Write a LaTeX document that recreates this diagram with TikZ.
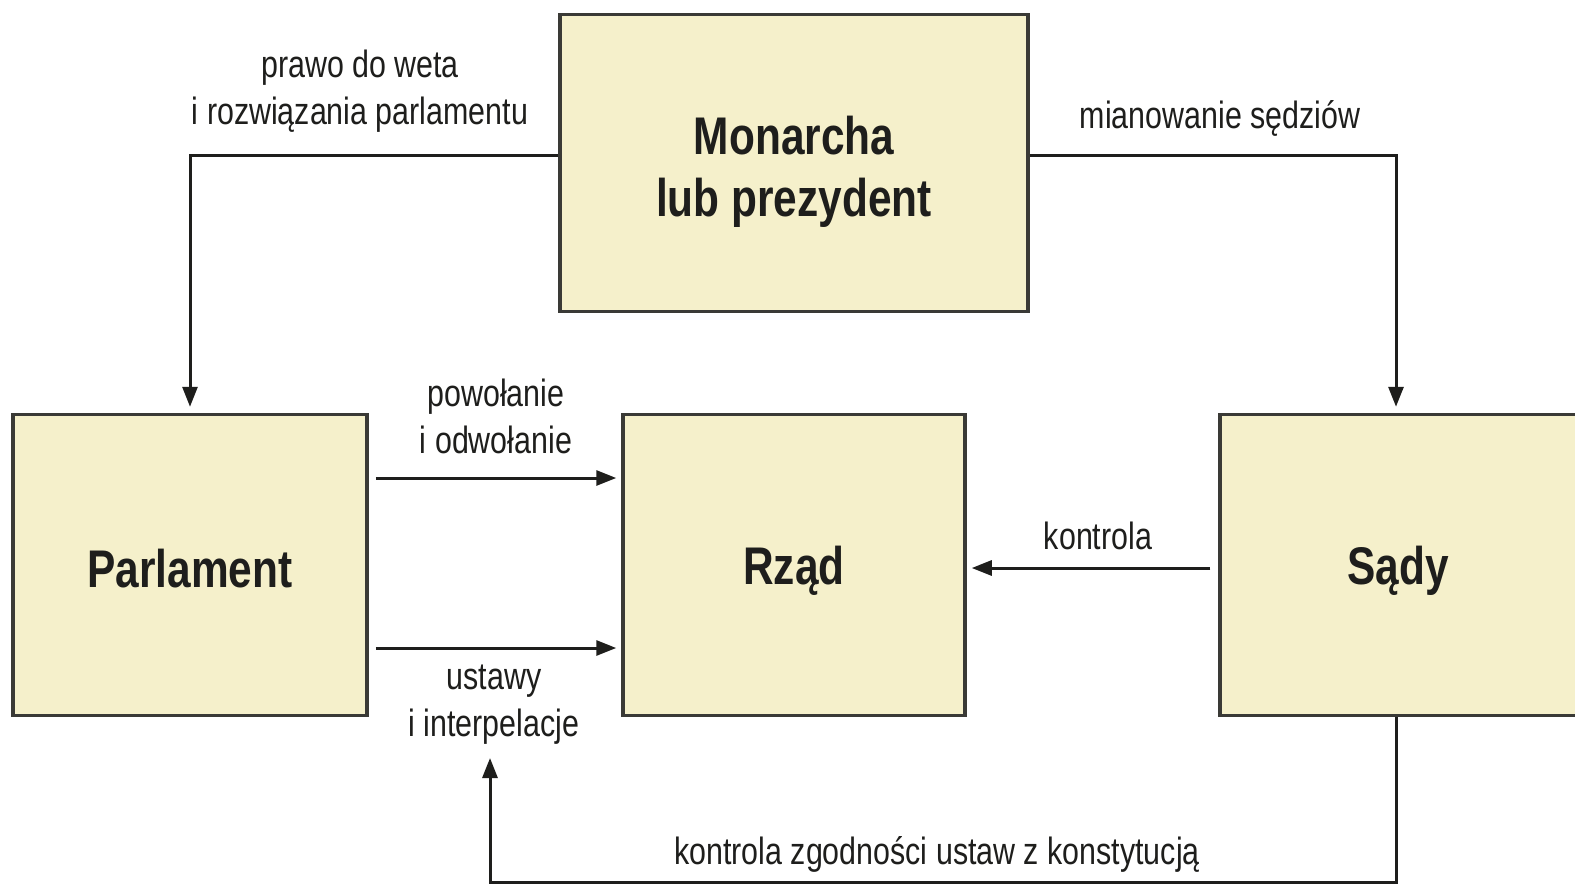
\documentclass[tikz,border=0pt]{standalone}
\usepackage{fontspec}
\setmainfont{Liberation Sans}[FakeStretch=0.8]
\usetikzlibrary{arrows.meta,calc}
\definecolor{boxfill}{HTML}{F5F0CB}
\definecolor{boxline}{HTML}{3A3A36}
\definecolor{ink}{HTML}{1E1E1C}
\begin{document}
\begin{tikzpicture}[x=1pt,y=-1pt,
  box/.style={draw=boxline, fill=boxfill, line width=3.5pt, inner sep=0pt},
  boxtext/.style={font=\fontsize{53}{62}\selectfont\bfseries, text=ink, align=center},
  lbl/.style={font=\fontsize{38}{47}\selectfont, text=ink, align=center, inner sep=0pt},
  conn/.style={draw=ink, line width=3pt, -{Triangle[length=20pt,width=15pt]}}]
\clip (0,0) rectangle (1575,887);
\fill[white] (0,0) rectangle (1575,887);
% boxes
\node[box, minimum width=468pt, minimum height=297pt,
  label={[boxtext, yshift=-9pt]center:Monarcha\\lub prezydent}] (mon) at (794,163) {};
\node[box, minimum width=354pt, minimum height=301pt,
  label={[boxtext, yshift=-4pt]center:Parlament}] (parl) at (190,565) {};
\node[box, minimum width=342pt, minimum height=301pt,
  label={[boxtext, yshift=-6pt]center:Rząd}] (rzad) at (794,565) {};
\node[box, minimum width=370pt, minimum height=301pt,
  label={[boxtext, xshift=-7pt, yshift=-6pt]center:Sądy}] (sady) at (1405,565) {};
% labels
\node[lbl] (lveto) at (360,91) {prawo do weta\\i rozwiązania parlamentu};
\node[lbl] (lmian) at (1220,118) {mianowanie sędziów};
\node[lbl] (lpow) at (496,416) {powołanie\\i odwołanie};
\node[lbl] (lust) at (494,705) {ustawy\\i interpelacje};
\node[lbl] (lkon) at (1098,536) {kontrola};
\node[lbl] (lzgod) at (937,854) {kontrola zgodności ustaw z konstytucją};
% connectors
\coordinate (tipL) at (490,758);
\draw[conn, shorten >=6pt] ([yshift=8pt]mon.west) -| (parl.north);
\draw[conn, shorten >=6pt] ([yshift=8pt]mon.east) -| ([xshift=-9pt]sady.north);
\draw[conn, shorten <=7pt, shorten >=5pt] ([yshift=87pt]parl.east) -- ([yshift=87pt]rzad.west);
\draw[conn, shorten <=7pt, shorten >=5pt] ([yshift=-83pt]parl.east) -- ([yshift=-83pt]rzad.west);
\draw[conn, shorten <=8pt, shorten >=5pt] ([yshift=-3pt]sady.west) -- ([yshift=-3pt]rzad.east);
\draw[conn] ([xshift=-9pt]sady.south) -- ++(0,165) -| (tipL);
\end{tikzpicture}
\end{document}
